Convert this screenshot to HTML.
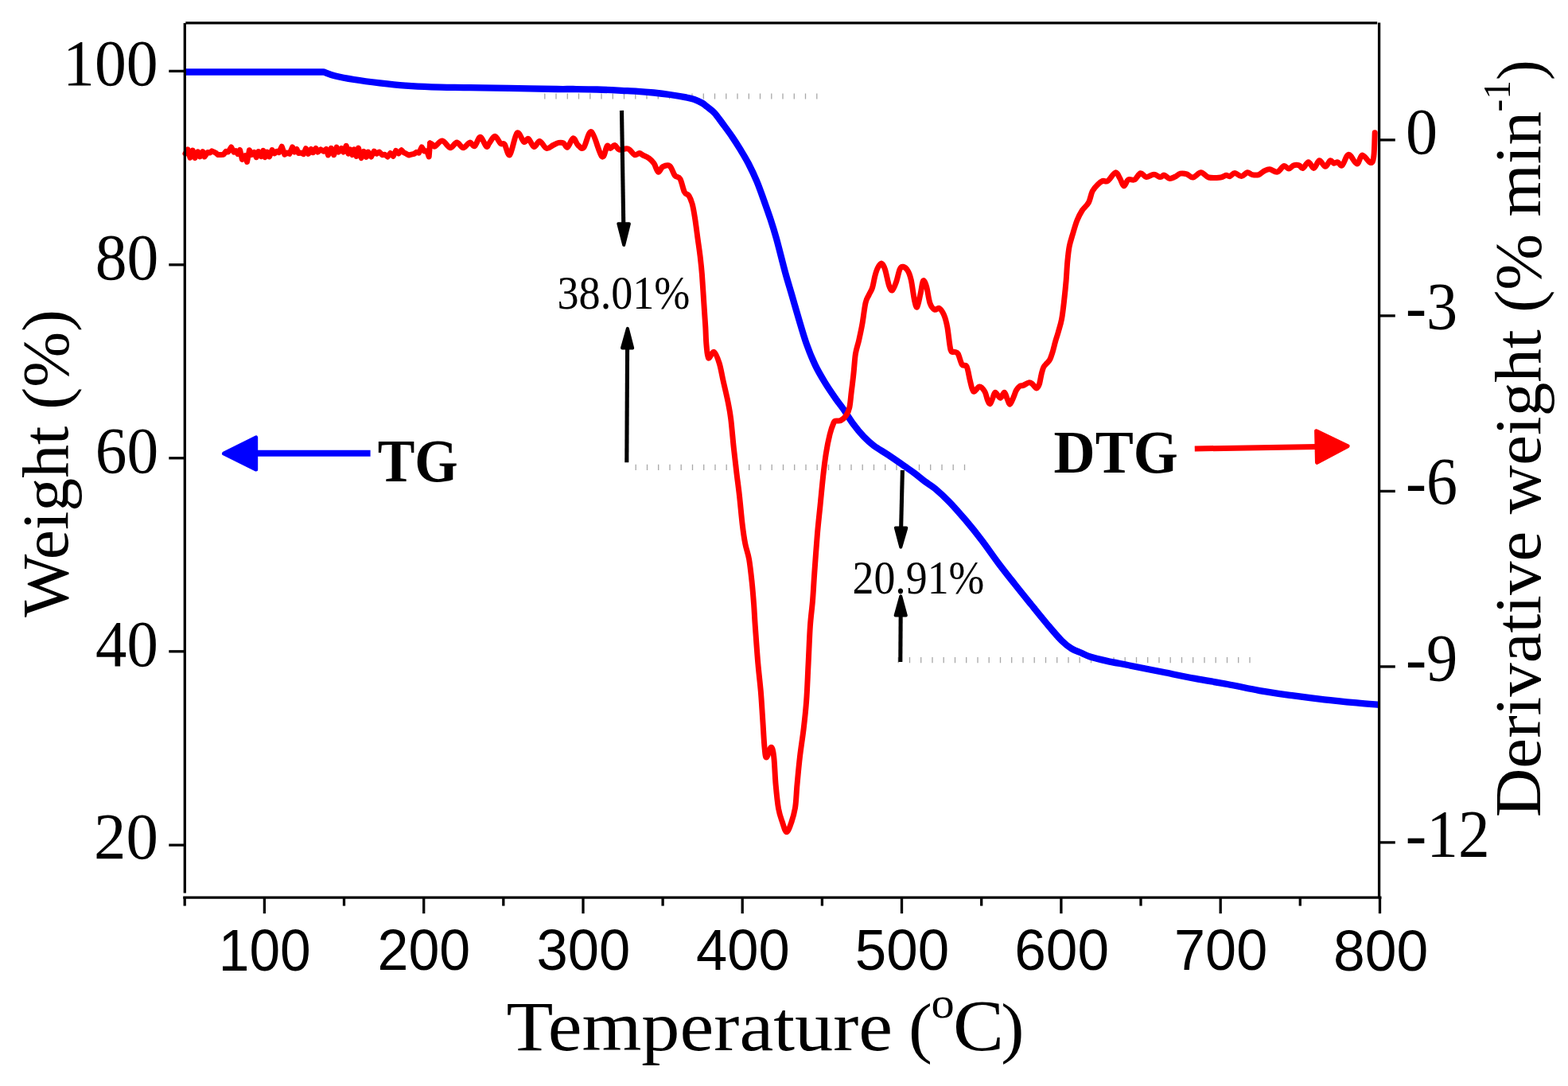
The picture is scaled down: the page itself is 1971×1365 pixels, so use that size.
<!DOCTYPE html>
<html><head><meta charset="utf-8"><style>
html,body{margin:0;padding:0;background:#fff;overflow:hidden;}
svg{display:block;}
</style></head><body>
<svg width="1971" height="1365" viewBox="0 0 1971 1365"><path d="M684.8,117.4v7.2M699.0,117.4v7.2M713.3,117.4v7.2M727.5,117.4v7.2M741.8,117.4v7.2M756.0,117.4v7.2M770.3,117.4v7.2M784.5,117.4v7.2M798.8,117.4v7.2M813.0,117.4v7.2M827.3,117.4v7.2M841.5,117.4v7.2M855.8,117.4v7.2M870.0,117.4v7.2M884.3,117.4v7.2M898.5,117.4v7.2M912.8,117.4v7.2M927.0,117.4v7.2M941.3,117.4v7.2M955.5,117.4v7.2M969.8,117.4v7.2M984.0,117.4v7.2M998.3,117.4v7.2M1012.5,117.4v7.2M1026.8,117.4v7.2" stroke="#a8a8a8" stroke-width="1.3" fill="none"/><path d="M799.2,583.7v7.2M813.5,583.7v7.2M827.7,583.7v7.2M842.0,583.7v7.2M856.2,583.7v7.2M870.5,583.7v7.2M884.7,583.7v7.2M899.0,583.7v7.2M913.2,583.7v7.2M927.5,583.7v7.2M941.7,583.7v7.2M956.0,583.7v7.2M970.2,583.7v7.2M984.5,583.7v7.2M998.7,583.7v7.2M1013.0,583.7v7.2M1027.2,583.7v7.2M1041.5,583.7v7.2M1055.7,583.7v7.2M1070.0,583.7v7.2M1084.2,583.7v7.2M1098.5,583.7v7.2M1112.7,583.7v7.2M1127.0,583.7v7.2M1141.2,583.7v7.2M1155.5,583.7v7.2M1169.7,583.7v7.2M1184.0,583.7v7.2M1198.2,583.7v7.2M1212.5,583.7v7.2" stroke="#a8a8a8" stroke-width="1.3" fill="none"/><path d="M1129.2,826.0v7.2M1143.5,826.0v7.2M1157.7,826.0v7.2M1172.0,826.0v7.2M1186.2,826.0v7.2M1200.5,826.0v7.2M1214.7,826.0v7.2M1229.0,826.0v7.2M1243.2,826.0v7.2M1257.5,826.0v7.2M1271.7,826.0v7.2M1286.0,826.0v7.2M1300.2,826.0v7.2M1314.5,826.0v7.2M1328.7,826.0v7.2M1343.0,826.0v7.2M1357.2,826.0v7.2M1371.5,826.0v7.2M1385.7,826.0v7.2M1400.0,826.0v7.2M1414.2,826.0v7.2M1428.5,826.0v7.2M1442.7,826.0v7.2M1457.0,826.0v7.2M1471.2,826.0v7.2M1485.5,826.0v7.2M1499.7,826.0v7.2M1514.0,826.0v7.2M1528.2,826.0v7.2M1542.5,826.0v7.2M1556.7,826.0v7.2M1571.0,826.0v7.2" stroke="#a8a8a8" stroke-width="1.3" fill="none"/><path d="M233,90.5 L406.8,90.4  C409.1,91.2 414.2,93.6 420.6,95.2 C427.0,96.8 435.5,98.5 445.0,100.0 C454.5,101.5 466.6,103.1 477.4,104.4 C488.2,105.7 499.1,106.9 509.9,107.7 C520.7,108.5 528.9,108.9 542.4,109.3 C555.9,109.7 574.8,109.8 591.0,110.1 C607.2,110.4 621.6,110.6 639.8,110.9 C658.0,111.2 686.6,111.8 700.0,112.0 C713.4,112.2 711.8,111.9 720.3,112.0 C728.8,112.1 740.6,112.2 750.7,112.5 C760.9,112.8 772.7,113.4 781.2,113.8 C789.7,114.2 794.7,114.3 801.5,114.8 C808.3,115.2 815.0,115.8 821.8,116.5 C828.6,117.2 835.3,118.0 842.1,119.0 C848.9,120.0 857.3,121.4 862.4,122.4 C867.5,123.4 869.1,123.7 872.5,124.9 C875.9,126.1 879.9,128.0 882.6,129.5 C885.3,131.0 886.2,132.1 888.7,134.1 C891.2,136.1 894.6,138.1 897.9,141.7 C901.2,145.3 904.9,150.7 908.6,155.7 C912.3,160.7 916.6,166.4 920.3,171.8 C924.0,177.2 927.2,182.3 930.6,187.9 C934.0,193.5 937.4,198.9 940.8,205.5 C944.2,212.1 947.9,219.8 951.1,227.4 C954.3,235.0 957.0,242.8 959.9,250.9 C962.8,259.0 965.9,267.6 968.6,275.8 C971.3,284.0 972.9,288.9 976.0,300.0 C979.1,311.1 983.8,330.7 987.1,342.6 C990.4,354.5 992.8,361.9 995.6,371.6 C998.4,381.3 1001.0,390.5 1004.0,400.6 C1007.0,410.7 1010.3,422.3 1013.7,432.0 C1017.1,441.7 1020.8,450.6 1024.6,458.6 C1028.4,466.7 1032.3,473.1 1036.7,480.3 C1041.1,487.6 1047.3,496.5 1051.2,502.1 C1055.1,507.7 1056.4,508.8 1060.0,514.0 C1063.6,519.2 1068.5,527.5 1072.8,533.3 C1077.1,539.1 1081.3,544.2 1085.6,548.7 C1089.9,553.2 1093.4,556.4 1098.5,560.3 C1103.6,564.1 1110.0,567.5 1116.4,571.8 C1122.8,576.1 1131.4,582.0 1136.9,585.9 C1142.5,589.8 1145.4,591.7 1149.7,594.9 C1154.0,598.1 1158.3,601.9 1162.6,605.1 C1166.9,608.3 1170.3,609.8 1175.4,614.1 C1180.5,618.4 1186.9,624.2 1193.3,630.8 C1199.7,637.4 1206.9,645.7 1213.8,653.8 C1220.7,661.9 1227.6,670.5 1234.4,679.5 C1241.2,688.5 1248.1,698.6 1254.9,707.7 C1261.7,716.8 1268.6,725.4 1275.4,734.0 C1282.2,742.6 1289.1,751.1 1295.9,759.5 C1302.7,767.9 1310.0,777.0 1316.4,784.6 C1322.8,792.2 1329.3,800.0 1334.4,805.1 C1339.5,810.2 1342.9,812.8 1347.2,815.4 C1351.5,818.0 1356.1,819.3 1360.0,821.0 C1363.9,822.7 1365.3,823.9 1370.4,825.5 C1375.5,827.1 1382.2,828.7 1390.7,830.6 C1399.2,832.5 1409.4,834.3 1421.2,836.7 C1433.0,839.1 1448.3,842.1 1461.8,844.8 C1475.3,847.5 1488.9,850.4 1502.4,852.9 C1515.9,855.4 1529.4,857.5 1542.9,860.0 C1556.4,862.5 1570.0,865.7 1583.5,868.1 C1597.0,870.5 1610.6,872.3 1624.1,874.2 C1637.6,876.1 1651.2,877.8 1664.7,879.3 C1678.2,880.8 1693.8,882.3 1705.3,883.4 C1716.8,884.5 1728.8,885.4 1733.5,885.8" stroke="#0000ff" stroke-width="8.3" fill="none" stroke-linejoin="round" stroke-linecap="butt"/><path d="M233.0,193.0 L236.1,188.0 L239.0,198.2 L242.2,189.1 L245.2,198.4 L248.7,190.8 L251.4,196.9 L254.8,190.6 L257.1,197.0 L260.9,191.5 L264.0,192.0 L266.3,189.9 L268.6,190.9 L271.2,192.1 L274.1,194.6 L277.6,194.6 L280.9,194.2 L284.1,190.3 L286.8,191.0 L290.6,185.0 L293.9,191.0 L296.5,189.7 L298.8,193.5 L301.6,188.5 L304.4,200.5 L308.0,195.6 L310.5,203.5 L313.5,188.7 L316.3,194.4 L319.5,191.4 L322.2,197.7 L324.9,190.6 L328.3,196.6 L330.9,189.4 L333.2,197.6 L335.7,191.0 L338.6,196.9 L342.0,188.6 L345.2,192.8 L348.1,190.2 L350.7,191.6 L354.2,184.2 L357.8,194.2 L360.6,192.1 L363.9,193.3 L367.6,184.9 L370.2,191.0 L373.0,187.5 L375.3,192.6 L378.4,192.1 L381.6,193.7 L384.5,186.7 L387.5,193.4 L391.1,187.4 L393.5,191.7 L397.0,186.4 L399.5,191.0 L403.2,187.9 L407.0,190.2 L410.1,187.5 L412.5,194.9 L416.2,186.3 L419.6,194.7 L423.1,185.1 L425.7,191.0 L429.1,186.5 L431.7,191.0 L435.2,183.3 L437.9,193.1 L440.4,188.0 L443.0,194.6 L445.3,187.9 L448.1,196.4 L450.5,186.1 L454.2,198.6 L457.4,190.4 L460.5,197.3 L462.8,191.1 L466.5,197.0 L470.2,190.1 L473.4,193.2 L476.8,191.1 L480.6,194.8 L483.7,194.3 L487.3,197.0 L490.6,192.5 L494.3,196.3 L497.6,189.4 L501.2,192.9 L504.6,188.7 L507.8,191.9 L510.6,193.2 L513.7,195.0 L517.0,194.2 L520.6,193.3 L523.4,191.3 L526.5,192.2 L530.1,185.0 L533.5,190.1 L536.6,189.6 L539.2,197.0 L540.6,180.0 L543.7,182.0" stroke="#ff0000" stroke-width="7" fill="none" stroke-linejoin="round" stroke-linecap="round"/><path d="M540.6,180.0 C541.1,180.3 542.7,181.3 543.7,182.0 C544.7,182.7 544.8,184.8 546.8,184.0 C548.8,183.2 552.8,176.8 556.0,177.1 C559.2,177.4 563.0,185.4 566.0,185.7 C569.0,186.0 571.5,179.1 574.2,179.1 C576.9,179.1 579.7,185.7 582.4,185.7 C585.1,185.7 588.1,179.4 590.5,179.1 C592.9,178.8 594.4,184.8 596.6,183.7 C598.8,182.6 601.2,172.2 603.7,172.3 C606.2,172.4 609.4,182.7 611.3,184.0 C613.2,185.3 613.2,182.1 615.0,180.0 C616.8,177.9 619.7,171.2 622.1,171.3 C624.5,171.4 627.2,178.7 629.2,180.4 C631.2,182.1 632.3,179.1 634.3,181.5 C636.2,183.9 638.3,197.0 640.9,194.6 C643.5,192.2 647.0,169.9 650.0,167.2 C653.0,164.5 656.2,177.2 658.6,178.4 C661.0,179.6 662.1,173.4 664.2,174.4 C666.3,175.4 668.9,184.0 671.3,184.5 C673.7,185.0 675.8,177.1 678.4,177.4 C681.0,177.7 684.2,185.7 687.0,186.5 C689.8,187.3 692.7,183.7 695.2,182.5 C697.8,181.3 700.1,179.8 702.3,179.4 C704.5,179.0 706.5,179.0 708.4,179.9 C710.2,180.8 711.4,186.0 713.4,185.0 C715.4,184.0 718.3,174.2 720.5,173.8 C722.7,173.4 724.4,180.6 726.6,182.5 C728.8,184.4 730.9,188.3 733.7,185.5 C736.5,182.7 739.6,163.8 743.4,165.7 C747.2,167.6 753.3,193.7 756.6,196.7 C759.9,199.7 761.3,185.2 763.1,183.5 C764.9,181.8 765.6,186.7 767.2,186.5 C768.8,186.3 770.9,182.2 772.8,182.5 C774.7,182.8 775.6,187.3 778.4,188.1 C781.2,188.8 786.3,185.9 789.5,187.0 C792.7,188.1 795.3,193.7 797.7,194.6 C800.1,195.5 801.9,192.5 803.7,192.6 C805.6,192.7 806.8,194.4 808.8,195.4 C810.8,196.4 813.2,197.0 815.4,198.7 C817.6,200.3 820.0,202.4 822.0,205.3 C824.0,208.2 825.7,215.6 827.5,216.3 C829.3,217.0 830.6,211.0 833.0,209.7 C835.4,208.4 839.2,206.8 841.8,208.6 C844.4,210.4 846.2,218.0 848.4,220.7 C850.6,223.4 853.0,221.5 855.0,225.0 C857.0,228.5 858.6,238.0 860.4,241.5 C862.2,245.0 864.2,243.3 865.9,245.9 C867.5,248.5 869.0,252.1 870.3,256.9 C871.6,261.7 872.5,267.5 873.6,274.5 C874.7,281.5 875.8,290.6 876.9,298.7 C878.0,306.8 879.3,315.2 880.2,322.9 C881.1,330.6 881.7,335.6 882.4,344.8 C883.1,354.0 883.9,366.8 884.6,377.8 C885.3,388.8 886.2,401.7 886.8,410.8 C887.3,419.9 887.3,426.2 887.9,432.7 C888.5,439.2 888.9,448.4 890.5,450.0 C892.1,451.6 895.2,441.2 897.5,442.3 C899.8,443.4 902.3,450.6 904.2,456.6 C906.1,462.6 907.2,470.2 909.0,478.3 C910.8,486.4 913.4,496.8 915.0,504.9 C916.6,512.9 917.5,516.9 918.7,526.6 C919.9,536.3 921.1,551.6 922.3,562.9 C923.5,574.2 924.7,584.2 925.9,594.3 C927.1,604.4 928.3,612.4 929.5,623.3 C930.7,634.2 932.0,649.4 933.2,659.5 C934.4,669.6 935.4,676.5 936.8,683.7 C938.2,691.0 940.2,695.0 941.6,703.0 C943.0,711.0 944.2,722.5 945.2,732.0 C946.2,741.5 946.9,750.6 947.6,759.8 C948.3,768.9 948.4,774.6 949.3,786.9 C950.2,799.2 951.6,820.0 952.8,833.7 C954.0,847.4 955.3,857.2 956.3,868.9 C957.3,880.6 957.9,892.3 958.7,904.0 C959.5,915.7 960.2,931.2 961.0,939.2 C961.8,947.2 962.0,952.1 963.4,952.1 C964.8,952.1 967.7,939.4 969.2,939.2 C970.8,939.0 971.7,943.1 972.7,950.9 C973.7,958.7 974.1,975.2 975.1,986.1 C976.1,997.0 977.2,1008.7 978.6,1016.5 C980.0,1024.3 981.6,1028.1 983.3,1033.0 C985.0,1037.9 986.8,1045.8 988.7,1045.8 C990.7,1045.8 993.2,1038.3 995.0,1033.0 C996.8,1027.7 998.5,1022.0 999.7,1014.2 C1000.9,1006.4 1001.0,996.7 1002.0,986.1 C1003.0,975.5 1004.1,962.6 1005.5,950.9 C1006.9,939.2 1008.8,927.5 1010.2,915.8 C1011.6,904.1 1012.7,894.3 1013.7,880.6 C1014.7,866.9 1015.3,849.3 1016.1,833.7 C1016.9,818.1 1017.5,800.0 1018.4,786.9 C1019.3,773.8 1020.6,766.2 1021.5,755.0 C1022.4,743.8 1022.8,733.8 1023.8,719.9 C1024.8,706.0 1026.2,685.7 1027.4,671.6 C1028.6,657.5 1029.8,647.5 1031.0,635.4 C1032.2,623.3 1033.4,610.0 1034.6,599.1 C1035.8,588.2 1036.9,579.0 1038.3,570.1 C1039.7,561.2 1041.5,552.4 1043.1,546.0 C1044.7,539.6 1046.7,534.3 1047.9,531.5 C1049.1,528.7 1048.6,529.5 1050.1,529.0 C1051.6,528.5 1054.5,529.6 1056.8,528.5 C1059.0,527.4 1061.8,525.0 1063.6,522.3 C1065.4,519.6 1066.7,517.2 1067.8,512.2 C1068.9,507.2 1069.4,499.0 1070.3,492.0 C1071.2,485.0 1072.1,478.0 1072.9,470.1 C1073.8,462.2 1074.3,451.8 1075.4,444.8 C1076.5,437.8 1078.2,434.1 1079.6,427.9 C1081.0,421.7 1082.4,415.5 1083.8,407.7 C1085.2,399.9 1086.6,387.0 1088.0,380.8 C1089.4,374.6 1090.8,373.8 1092.2,370.7 C1093.6,367.6 1095.1,366.1 1096.4,362.2 C1097.7,358.3 1098.7,351.3 1099.8,347.1 C1100.9,342.9 1101.8,339.7 1103.2,337.0 C1104.6,334.3 1106.7,330.8 1108.2,331.1 C1109.8,331.4 1111.0,334.0 1112.5,338.6 C1114.0,343.2 1116.0,354.5 1117.5,358.9 C1119.0,363.3 1120.2,365.6 1121.7,364.8 C1123.2,364.0 1125.2,358.2 1126.8,353.8 C1128.3,349.4 1129.6,341.7 1131.0,338.6 C1132.4,335.5 1133.5,335.0 1135.2,335.3 C1136.9,335.6 1139.4,337.5 1141.1,340.3 C1142.8,343.1 1143.9,345.9 1145.3,352.1 C1146.7,358.3 1148.2,371.8 1149.5,377.4 C1150.8,383.0 1151.6,387.2 1152.9,385.8 C1154.2,384.4 1155.8,374.5 1157.1,369.0 C1158.4,363.5 1159.2,354.4 1160.5,353.0 C1161.8,351.6 1163.3,355.9 1164.7,360.5 C1166.1,365.1 1167.2,376.0 1168.9,380.8 C1170.6,385.6 1172.8,388.1 1174.8,389.2 C1176.8,390.3 1178.7,386.4 1180.7,387.5 C1182.7,388.6 1184.9,392.0 1186.6,395.9 C1188.3,399.8 1189.4,403.8 1190.8,411.1 C1192.2,418.4 1193.5,434.5 1195.0,439.7 C1196.5,444.9 1198.5,441.4 1200.1,442.3 C1201.6,443.2 1202.8,442.1 1204.3,444.8 C1205.8,447.5 1207.5,455.6 1209.3,458.3 C1211.1,461.0 1213.5,457.4 1215.2,460.8 C1216.9,464.2 1218.0,473.3 1219.4,478.5 C1220.8,483.7 1221.7,490.7 1223.7,492.0 C1225.7,493.3 1228.8,486.1 1231.2,486.1 C1233.6,486.2 1236.2,489.5 1237.9,492.3 C1239.6,495.1 1240.3,500.2 1241.4,502.8 C1242.5,505.4 1243.5,508.0 1244.5,507.7 C1245.5,507.4 1246.5,503.5 1247.6,501.1 C1248.7,498.7 1249.5,493.4 1251.1,493.2 C1252.7,493.0 1255.4,500.2 1257.3,500.2 C1259.2,500.2 1261.0,493.0 1262.5,493.2 C1264.0,493.4 1264.8,498.6 1266.0,501.1 C1267.2,503.6 1268.3,508.4 1269.6,508.1 C1270.9,507.8 1272.7,502.2 1274.0,499.3 C1275.3,496.4 1276.2,492.8 1277.5,490.5 C1278.8,488.2 1280.4,486.3 1281.9,485.3 C1283.4,484.3 1284.4,485.1 1286.3,484.4 C1288.2,483.7 1291.4,481.2 1293.3,480.9 C1295.2,480.6 1296.1,481.4 1297.7,482.6 C1299.3,483.8 1301.5,487.9 1303.0,487.9 C1304.5,487.9 1305.5,485.5 1306.5,482.6 C1307.5,479.7 1308.2,473.8 1309.1,470.3 C1310.0,466.8 1310.6,463.8 1311.8,461.5 C1313.0,459.2 1314.8,457.9 1316.1,456.3 C1317.4,454.7 1318.5,454.2 1319.7,451.9 C1320.9,449.5 1322.0,446.0 1323.2,442.2 C1324.4,438.4 1325.5,433.1 1326.7,429.0 C1327.9,424.9 1328.9,422.2 1330.2,417.6 C1331.5,413.0 1333.2,408.1 1334.5,401.4 C1335.8,394.7 1336.8,385.2 1337.7,377.2 C1338.6,369.1 1339.4,361.2 1340.1,353.1 C1340.8,345.1 1341.1,336.1 1341.8,328.9 C1342.5,321.6 1343.1,315.2 1344.2,309.6 C1345.3,304.0 1346.6,300.5 1348.2,295.1 C1349.8,289.7 1351.8,282.4 1353.8,277.3 C1355.8,272.2 1357.9,268.2 1360.3,264.5 C1362.7,260.8 1366.1,258.8 1368.3,254.8 C1370.5,250.8 1371.3,244.1 1373.2,240.3 C1375.1,236.5 1377.4,234.3 1379.6,232.2 C1381.8,230.0 1383.9,228.2 1386.1,227.4 C1388.2,226.6 1389.8,229.2 1392.5,227.4 C1395.2,225.7 1399.7,217.4 1402.2,216.9 C1404.8,216.4 1406.0,221.4 1407.8,224.2 C1409.5,227.0 1411.0,233.5 1412.7,233.8 C1414.5,234.1 1416.0,227.1 1418.3,225.8 C1420.6,224.5 1423.8,227.2 1426.3,225.8 C1428.8,224.5 1431.2,218.2 1433.6,217.7 C1436.0,217.2 1438.1,222.3 1440.9,222.6 C1443.7,222.9 1447.5,219.3 1450.5,219.3 C1453.5,219.3 1456.4,222.5 1458.6,222.6 C1460.8,222.7 1461.5,219.8 1463.4,220.1 C1465.3,220.4 1467.8,224.0 1470.0,224.4 C1472.2,224.8 1474.5,223.3 1476.8,222.3 C1479.1,221.3 1481.2,218.8 1483.7,218.2 C1486.2,217.6 1489.3,218.1 1491.9,218.9 C1494.5,219.7 1496.5,223.3 1499.5,223.0 C1502.5,222.7 1506.4,216.8 1509.7,216.8 C1513.0,216.8 1515.2,222.0 1519.3,223.0 C1523.4,224.0 1530.8,223.4 1534.4,223.0 C1538.1,222.6 1539.3,220.5 1541.2,220.3 C1543.1,220.1 1544.2,222.1 1546.0,221.6 C1547.8,221.1 1549.8,217.5 1552.2,217.5 C1554.6,217.5 1557.8,221.7 1560.4,221.6 C1563.0,221.5 1565.6,217.1 1567.9,216.8 C1570.2,216.5 1571.7,219.1 1574.1,219.6 C1576.5,220.1 1579.8,220.4 1582.3,219.6 C1584.8,218.8 1586.9,216.0 1589.2,214.8 C1591.5,213.7 1593.3,212.5 1596.0,212.7 C1598.7,212.9 1602.6,216.9 1605.6,216.2 C1608.6,215.5 1611.4,209.3 1613.8,208.6 C1616.2,207.9 1617.9,212.2 1620.0,212.1 C1622.1,212.0 1624.0,208.6 1626.2,207.9 C1628.4,207.2 1631.1,207.3 1633.0,207.9 C1634.9,208.5 1635.8,212.1 1637.8,211.4 C1639.8,210.7 1642.4,203.8 1644.7,203.8 C1647.0,203.8 1649.2,211.7 1651.5,211.4 C1653.8,211.1 1656.0,202.2 1658.4,201.8 C1660.8,201.5 1663.6,209.3 1665.9,209.3 C1668.2,209.3 1670.3,202.5 1672.1,201.8 C1673.9,201.1 1675.2,204.9 1676.8,205.2 C1678.4,205.5 1679.9,203.4 1681.6,203.8 C1683.3,204.2 1684.8,209.5 1687.1,207.9 C1689.4,206.3 1692.2,194.5 1695.3,194.2 C1698.4,193.9 1702.7,205.8 1705.6,205.9 C1708.5,206.0 1709.7,195.1 1712.5,194.9 C1715.3,194.7 1720.3,204.2 1722.7,204.5 C1725.1,204.8 1725.9,203.3 1726.8,197.0 C1727.7,190.7 1728.0,171.8 1728.2,166.8" stroke="#ff0000" stroke-width="7" fill="none" stroke-linejoin="round" stroke-linecap="round"/><g stroke="#000" stroke-width="3.3" fill="none"><path d="M232.3,29.1V1122.5"/><path d="M1733.6,28.4V1128.2"/><path d="M233.3,28.9H1731.2"/><path d="M230.2,1128.2H1736.5"/><path d="M212.3,89.4H232.3"/><path d="M212.3,332.8H232.3"/><path d="M212.3,575.8H232.3"/><path d="M212.3,818.8H232.3"/><path d="M212.3,1062.2H232.3"/><path d="M1733.6,175.9H1753.8"/><path d="M1733.6,396.9H1753.8"/><path d="M1733.6,617.4H1753.8"/><path d="M1733.6,837.9H1753.8"/><path d="M1733.6,1058.9H1753.8"/><path d="M232.2,1128.2V1138.6"/><path d="M332.4,1128.2V1148.2"/><path d="M432.5,1128.2V1138.6"/><path d="M532.7,1128.2V1148.2"/><path d="M632.8,1128.2V1138.6"/><path d="M733.0,1128.2V1148.2"/><path d="M833.1,1128.2V1138.6"/><path d="M933.2,1128.2V1148.2"/><path d="M1033.4,1128.2V1138.6"/><path d="M1133.5,1128.2V1148.2"/><path d="M1233.7,1128.2V1138.6"/><path d="M1333.9,1128.2V1148.2"/><path d="M1434.0,1128.2V1138.6"/><path d="M1534.2,1128.2V1148.2"/><path d="M1634.3,1128.2V1138.6"/><path d="M1734.5,1128.2V1148.2"/></g><path d="M322.0,569.8 L465.6,569.8" stroke="#0000ff" stroke-width="8.0" fill="none"/><path d="M281.5,570.0 L321.7,549.9 L321.7,590.1 Z" fill="#0000ff" stroke="#0000ff" stroke-width="5.0" stroke-linejoin="round"/><path d="M1501.8,564.0 L1655.0,561.6" stroke="#ff0000" stroke-width="7.0" fill="none"/><path d="M1694.1,560.7 L1655.5,581.3 L1654.6,541.7 Z" fill="#ff0000" stroke="#ff0000" stroke-width="5.0" stroke-linejoin="round"/><path d="M781.5,138.9 L783.8,285.0" stroke="#000" stroke-width="5.1" fill="none"/><path d="M784.2,307.9 L777.3,281.3 L790.9,281.3 Z" fill="#000" stroke="#000" stroke-width="4.0" stroke-linejoin="round"/><path d="M787.8,581.2 L788.6,432.0" stroke="#000" stroke-width="5.1" fill="none"/><path d="M788.9,412.9 L795.2,437.6 L782.0,437.4 Z" fill="#000" stroke="#000" stroke-width="4.0" stroke-linejoin="round"/><path d="M1134.4,591.0 L1132.6,665.0" stroke="#000" stroke-width="5.1" fill="none"/><path d="M1132.3,687.7 L1125.9,663.4 L1139.3,663.6 Z" fill="#000" stroke="#000" stroke-width="4.0" stroke-linejoin="round"/><path d="M1131.8,832.1 L1132.2,770.0" stroke="#000" stroke-width="5.1" fill="none"/><path d="M1132.3,749.4 L1138.8,773.6 L1125.6,773.6 Z" fill="#000" stroke="#000" stroke-width="4.0" stroke-linejoin="round"/><text x="79.10" y="106.50" font-family='"Liberation Serif", "DejaVu Serif", serif' font-size="83.32" textLength="119.61" lengthAdjust="spacingAndGlyphs">100</text><text x="119.70" y="350.80" font-family='"Liberation Serif", "DejaVu Serif", serif' font-size="83.05" textLength="79.67" lengthAdjust="spacingAndGlyphs">80</text><text x="119.70" y="593.50" font-family='"Liberation Serif", "DejaVu Serif", serif' font-size="83.32" textLength="79.43" lengthAdjust="spacingAndGlyphs">60</text><text x="120.10" y="836.50" font-family='"Liberation Serif", "DejaVu Serif", serif' font-size="82.11" textLength="78.73" lengthAdjust="spacingAndGlyphs">40</text><text x="118.00" y="1079.10" font-family='"Liberation Serif", "DejaVu Serif", serif' font-size="82.38" textLength="80.86" lengthAdjust="spacingAndGlyphs">20</text><text x="1767.00" y="193.20" font-family='"Liberation Serif", "DejaVu Serif", serif' font-size="83.15" textLength="40.13" lengthAdjust="spacingAndGlyphs">0</text><text x="1766.90" y="414.10" font-family='"Liberation Serif", "DejaVu Serif", serif' font-size="83.57" textLength="65.21" lengthAdjust="spacingAndGlyphs">-3</text><text x="1766.90" y="634.10" font-family='"Liberation Serif", "DejaVu Serif", serif' font-size="83.57" textLength="65.04" lengthAdjust="spacingAndGlyphs">-6</text><text x="1766.90" y="855.60" font-family='"Liberation Serif", "DejaVu Serif", serif' font-size="84.18" textLength="65.44" lengthAdjust="spacingAndGlyphs">-9</text><text x="1766.80" y="1076.60" font-family='"Liberation Serif", "DejaVu Serif", serif' font-size="84.61" textLength="105.84" lengthAdjust="spacingAndGlyphs">-12</text><text x="274.80" y="1220.30" font-family='"Liberation Sans", "DejaVu Sans", sans-serif' font-size="73.31" textLength="115.96" lengthAdjust="spacingAndGlyphs">100</text><text x="474.60" y="1219.20" font-family='"Liberation Sans", "DejaVu Sans", sans-serif' font-size="72.14" textLength="116.67" lengthAdjust="spacingAndGlyphs">200</text><text x="674.50" y="1219.20" font-family='"Liberation Sans", "DejaVu Sans", sans-serif' font-size="72.14" textLength="117.80" lengthAdjust="spacingAndGlyphs">300</text><text x="875.10" y="1219.20" font-family='"Liberation Sans", "DejaVu Sans", sans-serif' font-size="72.14" textLength="117.64" lengthAdjust="spacingAndGlyphs">400</text><text x="1074.80" y="1219.20" font-family='"Liberation Sans", "DejaVu Sans", sans-serif' font-size="72.14" textLength="118.36" lengthAdjust="spacingAndGlyphs">500</text><text x="1275.20" y="1219.20" font-family='"Liberation Sans", "DejaVu Sans", sans-serif' font-size="72.14" textLength="118.84" lengthAdjust="spacingAndGlyphs">600</text><text x="1476.10" y="1219.20" font-family='"Liberation Sans", "DejaVu Sans", sans-serif' font-size="72.14" textLength="117.09" lengthAdjust="spacingAndGlyphs">700</text><text x="1675.90" y="1219.60" font-family='"Liberation Sans", "DejaVu Sans", sans-serif' font-size="72.38" textLength="119.32" lengthAdjust="spacingAndGlyphs">800</text><text x="636.50" y="1320.10" font-family='"Liberation Serif", "DejaVu Serif", serif' font-size="88.19" textLength="485.53" lengthAdjust="spacingAndGlyphs">Temperature</text><text x="1142.00" y="1319.80" font-family='"Liberation Serif", "DejaVu Serif", serif' font-size="84.15" textLength="29.85" lengthAdjust="spacingAndGlyphs">(</text><text x="1170.50" y="1278.60" font-family='"Liberation Serif", "DejaVu Serif", serif' font-size="54.59" textLength="29.22" lengthAdjust="spacingAndGlyphs">o</text><text x="1197.90" y="1319.70" font-family='"Liberation Serif", "DejaVu Serif", serif' font-size="91.79" textLength="63.98" lengthAdjust="spacingAndGlyphs">C</text><text x="1258.20" y="1319.90" font-family='"Liberation Serif", "DejaVu Serif", serif' font-size="84.31" textLength="29.13" lengthAdjust="spacingAndGlyphs">)</text><text transform="translate(84.90,775.70) rotate(-90)" font-family='"Liberation Serif", "DejaVu Serif", serif' font-size="81.95" textLength="386.66" lengthAdjust="spacingAndGlyphs">Weight (%)</text><text transform="translate(1936.40,1027.20) rotate(-90)" font-family='"Liberation Serif", "DejaVu Serif", serif' font-size="81.50" textLength="887.33" lengthAdjust="spacingAndGlyphs">Derivative weight (% min</text><text transform="translate(1897.94,140.50) rotate(-90)" font-family='"Liberation Serif", "DejaVu Serif", serif' font-size="48.71" textLength="39.17" lengthAdjust="spacingAndGlyphs">-1</text><text transform="translate(1936.88,101.10) rotate(-90)" font-family='"Liberation Serif", "DejaVu Serif", serif' font-size="79.94" textLength="25.72" lengthAdjust="spacingAndGlyphs">)</text><text x="474.70" y="604.50" font-family='"Liberation Serif", "DejaVu Serif", serif' font-size="75.39" font-weight="bold" textLength="101.07" lengthAdjust="spacingAndGlyphs">TG</text><text x="1324.60" y="593.50" font-family='"Liberation Serif", "DejaVu Serif", serif' font-size="75.39" font-weight="bold" textLength="156.24" lengthAdjust="spacingAndGlyphs">DTG</text><text x="700.50" y="387.60" font-family='"Liberation Serif", "DejaVu Serif", serif' font-size="58.70" textLength="166.97" lengthAdjust="spacingAndGlyphs">38.01%</text><text x="1071.50" y="745.90" font-family='"Liberation Serif", "DejaVu Serif", serif' font-size="58.70" textLength="165.94" lengthAdjust="spacingAndGlyphs">20.91%</text></svg>
</body></html>
